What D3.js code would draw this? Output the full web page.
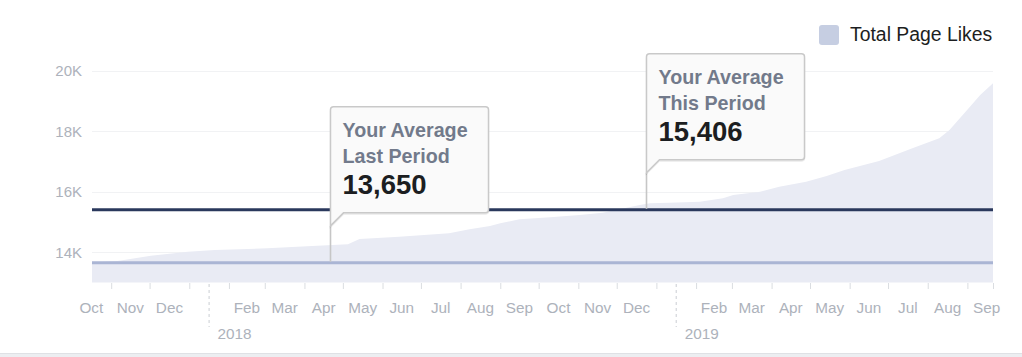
<!DOCTYPE html>
<html><head><meta charset="utf-8">
<script src="https://cdn.jsdelivr.net/npm/d3@7"></script>
<style>
body{margin:0;background:#fff;}
svg{display:block;font-family:"Liberation Sans",Arial,Helvetica,sans-serif;}
</style>
</head><body>
<svg id="c" width="1022" height="357"></svg>
<script>
// ---------- data ----------
const dates = ["2017-10-17","2017-11-06","2017-12-02","2017-12-31","2018-01-21","2018-03-03","2018-04-11","2018-05-05","2018-05-14","2018-06-14","2018-07-23","2018-08-08","2018-08-24","2018-09-01","2018-09-16","2018-10-10","2018-11-02","2018-11-20","2018-12-19","2018-12-27","2019-01-11","2019-02-04","2019-02-22","2019-03-02","2019-03-23","2019-04-07","2019-04-28","2019-05-14","2019-05-28","2019-06-24","2019-07-20","2019-08-10","2019-08-18","2019-09-03","2019-09-11","2019-09-21"];
const likes = [13662,13712,13887,14019,14076,14132,14218,14264,14440,14516,14628,14761,14870,14959,15092,15158,15234,15310,15565,15621,15641,15674,15787,15896,16005,16171,16336,16525,16723,17021,17442,17773,18047,18819,19206,19593];
const seriesName = "Total Page Likes";
const yTicks = [14000,16000,18000,20000];
const yTickLabels = ["14K","16K","18K","20K"];
const monthLabels = ["Oct","Nov","Dec","Jan","Feb","Mar","Apr","May","Jun","Jul","Aug","Sep","Oct","Nov","Dec","Jan","Feb","Mar","Apr","May","Jun","Jul","Aug","Sep"];
const firstMonth = "2017-10-01";
const yearLabels = ["2018","2019"];
const avgTitles = [["Your Average","Last Period"],["Your Average","This Period"]];
const avgValues = [13650, 15406];
const avgAnchorDates = ["2018-04-21","2018-12-24"];
const domainDates = ["2017-10-17","2019-09-21"];
const yDomain = [13000, 20000];

// ---------- setup ----------
const parse = d3.timeParse("%Y-%m-%d");
const fmtNum = d3.format(",");
const svg = d3.select("#c");
const L = 92, R = 993, TOP = 71, BOT = 282.5;
const x = d3.scaleTime().domain(domainDates.map(parse)).range([L, R]);
const y = d3.scaleLinear().domain(yDomain).range([BOT, TOP]);
const series = dates.map((d,i)=>({date:parse(d), v:likes[i]}));

// bottom band
svg.append("rect").attr("x",0).attr("y",353).attr("width",1022).attr("height",4).attr("fill","#eceef1");
svg.append("line").attr("x1",0).attr("x2",1022).attr("y1",353.5).attr("y2",353.5).attr("stroke","#dfe1e5");

// gridlines
svg.append("g").selectAll("line").data(yTicks).join("line")
  .attr("x1",L).attr("x2",R).attr("y1",d=>Math.round(y(d))+0.5).attr("y2",d=>Math.round(y(d))+0.5)
  .attr("stroke","#f1f2f4").attr("stroke-width",1);

// y axis labels
const yAxis = svg.append("g").attr("transform",`translate(${L},0)`)
  .call(d3.axisLeft(y).tickValues(yTicks).tickFormat((d,i)=>yTickLabels[i]).tickSize(0).tickPadding(10));
yAxis.select(".domain").remove();
yAxis.selectAll("text").attr("fill","#adb2bb").style("font-size","15px").style("font-family","inherit");

// area
svg.append("path").datum(series)
  .attr("fill","#e9ebf4")
  .attr("d", d3.area().x(d=>x(d.date)).y0(y(yDomain[0])).y1(d=>y(d.v)));

// average lines
const avgColors = ["#aab5d4","#2a385c"];
svg.append("g").selectAll("line").data(avgValues).join("line")
  .attr("x1",L).attr("x2",R).attr("y1",d=>y(d)).attr("y2",d=>y(d))
  .attr("stroke",(d,i)=>avgColors[i]).attr("stroke-width",3);

// x axis ticks
const m0 = parse(firstMonth);
const months = monthLabels.map((m,i)=>d3.timeMonth.offset(m0,i));
const tickVals = months.filter(d=>d>x.domain()[0]).concat([x.domain()[1]]);
const xAxis = svg.append("g").attr("transform",`translate(0,${BOT+0.5})`)
  .call(d3.axisBottom(x).tickValues(tickVals).tickFormat("").tickSize(6).tickSizeOuter(0));
xAxis.select(".domain").remove();
xAxis.selectAll(".tick line").attr("stroke","#dadde1");

// month labels and year markers
const lab = svg.append("g").attr("fill","#adb2bb").style("font-size","15.3px");
let yi = 0;
months.forEach((m,i)=>{
  const cx = (x(m) + x(d3.timeMonth.offset(m,1)))/2;
  if (m.getMonth() === 0) {
    lab.append("line").attr("x1",cx).attr("x2",cx).attr("y1",284).attr("y2",327)
      .attr("stroke","#d3d6db").attr("stroke-width",1.2).attr("stroke-dasharray","3,3");
    lab.append("text").attr("x",cx+8.5).attr("y",339).text(yearLabels[yi++]);
  } else {
    lab.append("text").attr("x",cx).attr("y",313).attr("text-anchor","middle").text(monthLabels[i]);
  }
});

// legend
svg.append("rect").attr("x",819).attr("y",25).attr("width",20).attr("height",20).attr("rx",3).attr("fill","#c6cee2");
svg.append("text").attr("x",850).attr("y",41).attr("fill","#1c1e21").style("font-size","19.4px").text(seriesName);

// callouts
const defs = svg.append("defs");
const f = defs.append("filter").attr("id","sh").attr("x","-10%").attr("y","-10%").attr("width","120%").attr("height","130%");
f.append("feDropShadow").attr("dx",0).attr("dy",1).attr("stdDeviation",0.6).attr("flood-color","#000").attr("flood-opacity",0.12);

avgValues.forEach((v,i)=>{
  const lx = Math.round(x(parse(avgAnchorDates[i]))) + 0.5;
  const ly = y(v);
  const B = ly - 50, T = B - 106, Rx = lx + 158, r = 3;
  const g = svg.append("g");
  g.append("line").attr("x1",lx).attr("x2",lx).attr("y1",B+13).attr("y2",ly-1)
    .attr("stroke","#c6c6c6").attr("stroke-width",1.6);
  const p = `M${lx+13},${B} L${Rx-r},${B} Q${Rx},${B} ${Rx},${B-r} L${Rx},${T+r} Q${Rx},${T} ${Rx-r},${T} L${lx+r},${T} Q${lx},${T} ${lx},${T+r} L${lx},${B+13} Z`;
  g.append("path").attr("d",p).attr("fill","#fafafa").attr("stroke","#c9c9c9").attr("stroke-width",1.5).attr("filter","url(#sh)");
  g.append("text").attr("x",lx+12).attr("y",T+30).attr("fill","#727a8b").style("font-size","19.7px").style("font-weight","bold").text(avgTitles[i][0]);
  g.append("text").attr("x",lx+12).attr("y",T+56).attr("fill","#727a8b").style("font-size","19.7px").style("font-weight","bold").text(avgTitles[i][1]);
  g.append("text").attr("x",lx+12).attr("y",T+87).attr("fill","#1c1e21").style("font-size","27.5px").style("font-weight","bold").text(fmtNum(v));
});
</script>
</body></html>
